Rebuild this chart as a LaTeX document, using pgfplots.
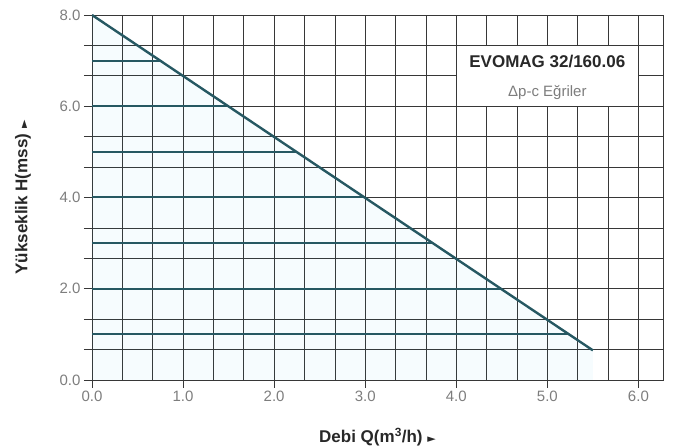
\documentclass[border=0pt]{standalone}
\usepackage{fontspec}
\setmainfont{Liberation Sans}
\newfontfamily\dejavu{DejaVu Sans}
\usepackage{pgfplots}
\pgfplotsset{compat=1.18}
\definecolor{gridc}{RGB}{55,55,55}
\definecolor{linec}{RGB}{38,88,98}
\definecolor{tickc}{RGB}{125,125,125}
\definecolor{boxtxt}{RGB}{40,40,40}
\begin{document}
\begin{tikzpicture}
\begin{axis}[
  name=ax,
  scale only axis, width=571pt, height=365pt,
  xmin=0, xmax=6.27, ymin=0, ymax=8,
  xtick={0,1,2,3,4,5,6}, ytick={0,2,4,6,8},
  minor x tick num=2, minor y tick num=2,
  grid=both,
  major grid style={gridc, line width=0.7pt},
  minor grid style={gridc, line width=0.7pt},
  axis line style={gridc, line width=0.9pt},
  tick pos=left, tick align=outside,
  major tick length=8pt, minor tick length=0pt,
  tick style={gridc, line width=0.7pt},
  extra y ticks={0.6667,1.3333,2.6667,3.3333,4.6667,5.3333,6.6667,7.3333},
  extra y tick labels={},
  extra y tick style={grid=none, major tick length=8pt},
  /pgf/number format/assume math mode=true,
  xticklabel style={/pgf/number format/.cd, fixed, fixed zerofill, precision=1},
  yticklabel style={/pgf/number format/.cd, fixed, fixed zerofill, precision=1},
  ticklabel style={font=\fontsize{15}{15}\selectfont, text=tickc},
  xlabel={Debi Q(m\textsuperscript{3}/h) {\dejavu\fontsize{11}{11}\selectfont ►}},
  ylabel={Yükseklik H(mss) {\dejavu\fontsize{11}{11}\selectfont ►}},
  label style={font=\fontsize{17}{17}\selectfont\bfseries, text=boxtxt},
  xlabel style={at={(axis description cs:0.5,0)}, anchor=center, yshift=-57pt},
  ylabel style={at={(axis description cs:-0.1208,0.5)}, anchor=center},
]
\addplot[draw=none, fill=cyan, fill opacity=0.035] coordinates {(0,0) (0,8) (5.5,0.65) (5.5,0)} -- cycle;
\addplot[linec, line width=2pt] coordinates {(0,7) (0.748,7)};
\addplot[linec, line width=2pt] coordinates {(0,6) (1.497,6)};
\addplot[linec, line width=2pt] coordinates {(0,5) (2.245,5)};
\addplot[linec, line width=2pt] coordinates {(0,4) (2.993,4)};
\addplot[linec, line width=2pt] coordinates {(0,3) (3.741,3)};
\addplot[linec, line width=2pt] coordinates {(0,2) (4.490,2)};
\addplot[linec, line width=2pt] coordinates {(0,1) (5.238,1)};
\addplot[linec, line width=2.4pt] coordinates {(0,8) (5.5,0.65)};
\draw[gridc, line width=0.9pt, fill=white] (axis cs:4,6) rectangle (axis cs:6,7.3333);
\node[text=boxtxt, font=\fontsize{17}{17}\selectfont\bfseries] at (axis cs:5,6.97) {EVOMAG 32/160.06};
\node[text=tickc, font=\fontsize{15}{15}\selectfont] at (axis cs:5,6.31) {Δp-c Eğriler};
\end{axis}
\pgfresetboundingbox
\path ([xshift=-92pt,yshift=-66pt]ax.south west) rectangle ([xshift=14pt,yshift=15pt]ax.north east);
\end{tikzpicture}
\end{document}
